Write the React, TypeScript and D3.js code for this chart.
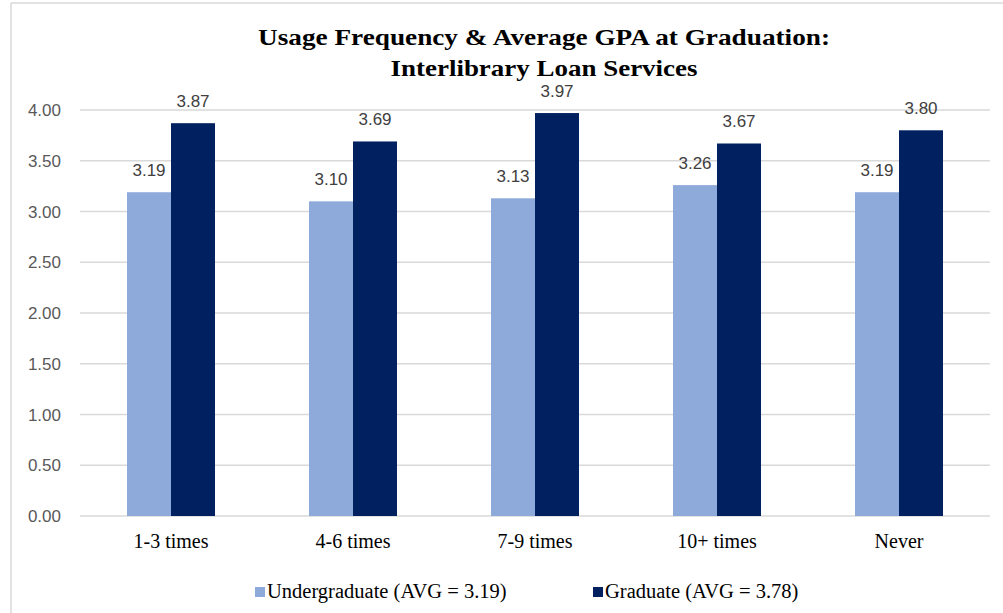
import React from "react";
import * as d3 from "d3";

const categories = ["1-3 times", "4-6 times", "7-9 times", "10+ times", "Never"];
const undergradValues = [3.19, 3.1, 3.13, 3.26, 3.19];
const gradValues = [3.87, 3.69, 3.97, 3.67, 3.8];
const seriesNames = ["Undergraduate (AVG = 3.19)", "Graduate (AVG = 3.78)"];
const yTicks = [0, 0.5, 1, 1.5, 2, 2.5, 3, 3.5, 4];
const titleLines = ["Usage Frequency & Average GPA at Graduation:", "Interlibrary Loan Services"];
const titleWidths = [572, 307];

const W = 1003;
const H = 613;
const plotLeft = 80;
const plotRight = 990;
const plotTop = 110;
const plotBottom = 516;
const colors = ["#8eaadb", "#002060"];

export default function App() {
  const x = d3.scaleBand<string>().domain(categories).range([plotLeft, plotRight]).padding(0);
  const y = d3.scaleLinear().domain([0, 4]).range([plotBottom, plotTop]);
  const barW = 44;
  const series = [undergradValues, gradValues];
  const serif = "'Liberation Serif', 'Times New Roman', serif";
  const sans = "'Liberation Sans', Arial, sans-serif";

  return (
    <svg width={W} height={H} style={{ position: "absolute", left: 0, top: 0 }}>
      <rect x={0} y={0} width={W} height={H} fill="#fff" />
      <line x1={11} y1={3} x2={W} y2={3} stroke="#d9d9d9" strokeWidth={1.5} />
      <line x1={11} y1={3} x2={11} y2={H} stroke="#d9d9d9" strokeWidth={1.5} />
      {titleLines.map((t, i) => (
        <text
          key={t}
          x={544}
          y={45 + i * 31}
          textAnchor="middle"
          fontFamily={serif}
          fontWeight="bold"
          fontSize={24}
          textLength={titleWidths[i]}
          lengthAdjust="spacingAndGlyphs"
          fill="#000"
        >
          {t}
        </text>
      ))}
      {yTicks.map((t) => (
        <g key={t}>
          <line x1={plotLeft} x2={plotRight} y1={y(t)} y2={y(t)} stroke="#d9d9d9" strokeWidth={1.5} />
          <text x={61} y={y(t) + 6} textAnchor="end" fontFamily={sans} fontSize={17} fill="#595959">
            {t.toFixed(2)}
          </text>
        </g>
      ))}
      {categories.map((c, i) => {
        const cx = (x(c) as number) + x.bandwidth() / 2;
        return (
          <g key={c}>
            {series.map((vals, s) => {
              const bx = cx - barW + s * barW;
              return (
                <g key={s}>
                  <rect x={bx} y={y(vals[i])} width={barW} height={plotBottom - y(vals[i])} fill={colors[s]} />
                  <text x={bx + barW / 2} y={y(vals[i]) - 16} textAnchor="middle" fontFamily={sans} fontSize={17} fill="#404040">
                    {vals[i].toFixed(2)}
                  </text>
                </g>
              );
            })}
            <text x={cx} y={548} textAnchor="middle" fontFamily={serif} fontSize={20} fill="#000">
              {c}
            </text>
          </g>
        );
      })}
      {seriesNames.map((n, s) => {
        const lx = s === 0 ? 255 : 593;
        return (
          <g key={n}>
            <rect x={lx} y={587} width={10} height={10} fill={colors[s]} />
            <text x={lx + 12} y={598} fontFamily={serif} fontSize={20.5} fill="#000">
              {n}
            </text>
          </g>
        );
      })}
    </svg>
  );
}
